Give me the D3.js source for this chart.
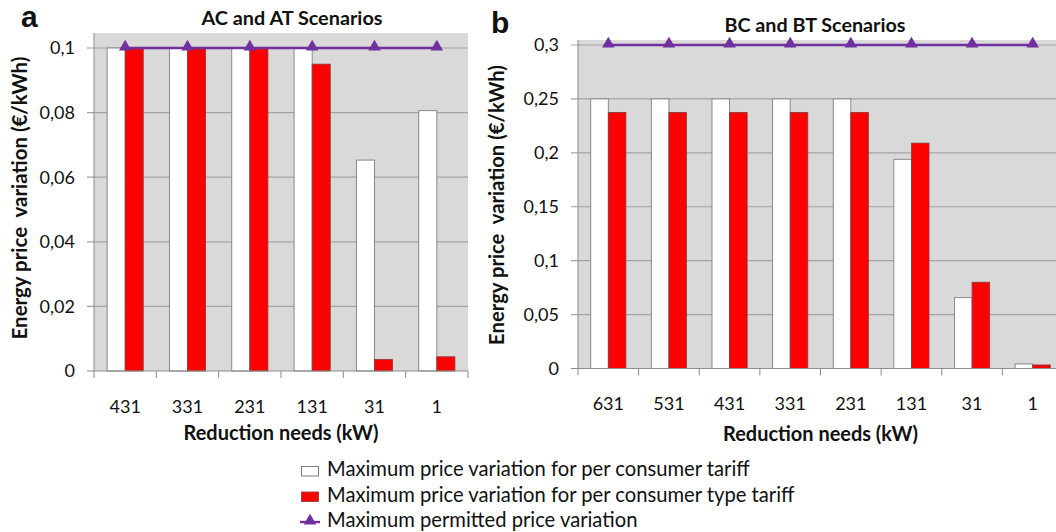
<!DOCTYPE html>
<html><head><meta charset="utf-8">
<script src="https://cdn.jsdelivr.net/npm/d3@7"></script>
<style>
html,body{margin:0;padding:0;background:#fff;}
svg{display:block;}
text{font-family:Lato,"Open Sans",sans-serif;fill:#111;}
</style></head>
<body>
<svg id="c" width="1056" height="532"></svg>
<script>
// ---- data ----
const catsA = ["431","331","231","131","31","1"];
const perConsumerA = [0.1,0.1,0.1,0.1,0.0653,0.0806];
const perTypeA     = [0.1,0.1,0.1,0.095,0.0036,0.0044];
const permittedA   = [0.1,0.1,0.1,0.1,0.1,0.1];
const yTicksA = [0,0.02,0.04,0.06,0.08,0.1];

const catsB = ["631","531","431","331","231","131","31","1"];
const perConsumerB = [0.25,0.25,0.25,0.25,0.25,0.194,0.0657,0.0042];
const perTypeB     = [0.2375,0.2375,0.2375,0.2375,0.2375,0.209,0.080,0.0033];
const permittedB   = [0.3,0.3,0.3,0.3,0.3,0.3,0.3,0.3];
const yTicksB = [0,0.05,0.1,0.15,0.2,0.25,0.3];

const legendLabels = [
  "Maximum price variation for per consumer tariff",
  "Maximum price variation for per consumer type tariff",
  "Maximum permitted price variation"
];

const svg = d3.select("#c");
const fmt = v => String(v).replace(".", ",");

function fitText(sel, target){
  const node = sel.node();
  const fs = parseFloat(sel.attr("font-size"));
  const w = node.getComputedTextLength();
  if (w > 0) sel.attr("font-size", (fs*target/w).toFixed(2));
  return sel;
}

function panel(o){
  const g = svg.append("g");
  const x = d3.scaleBand().domain(o.cats).range([o.left,o.right]);
  const y = d3.scaleLinear().domain([0,o.max]).range([o.y0,o.yMax]);
  const bw = x.bandwidth()*0.29;
  const cx = c => x(c)+x.bandwidth()/2;

  g.append("rect").attr("x",o.left).attr("y",o.top)
    .attr("width",o.right-o.left).attr("height",o.y0-o.top).attr("fill","#d9d9d9");
  // gridlines + ticks
  g.selectAll(".gl").data(o.ticks.filter(t=>t>0)).join("line")
    .attr("x1",o.left-7).attr("x2",o.right)
    .attr("y1",d=>y(d)).attr("y2",d=>y(d))
    .attr("stroke","#a3a3a3").attr("stroke-width",1.2);
  g.selectAll(".yl").data(o.ticks).join("text")
    .attr("x",o.left-19).attr("y",d=>y(d)).attr("dy","0.36em")
    .attr("text-anchor","end").attr("font-size",18).text(fmt);
  // y axis line
  g.append("line").attr("x1",o.left).attr("x2",o.left).attr("y1",o.top).attr("y2",o.y0)
    .attr("stroke","#8c8c8c").attr("stroke-width",1);
  // bars
  g.selectAll(".bw").data(o.cats).join("rect")
    .attr("x",c=>cx(c)-bw).attr("width",bw)
    .attr("y",(c,i)=>y(o.s1[i])).attr("height",(c,i)=>o.y0-y(o.s1[i]))
    .attr("fill","#ffffff").attr("stroke","#7f7f7f").attr("stroke-width",0.9);
  g.selectAll(".br").data(o.cats).join("rect")
    .attr("x",c=>cx(c)).attr("width",bw)
    .attr("y",(c,i)=>y(o.s2[i])).attr("height",(c,i)=>o.y0-y(o.s2[i]))
    .attr("fill","#ff0000").attr("stroke","#8a3a3a").attr("stroke-width",0.8);
  // x axis
  g.append("line").attr("x1",o.left-7).attr("x2",o.right).attr("y1",o.y0).attr("y2",o.y0)
    .attr("stroke","#8c8c8c").attr("stroke-width",1.2);
  const bounds = o.cats.map(c=>x(c)).concat([o.right]);
  g.selectAll(".xt").data(bounds).join("line")
    .attr("x1",d=>d).attr("x2",d=>d).attr("y1",o.y0).attr("y2",o.y0+7)
    .attr("stroke","#8c8c8c").attr("stroke-width",1);
  g.selectAll(".xl").data(o.cats).join("text")
    .attr("x",cx).attr("y",o.xLabY).attr("dy","0.36em")
    .attr("text-anchor","middle").attr("font-size",18).text(c=>c);
  // permitted line
  const line = d3.line().x((d,i)=>cx(o.cats[i])).y(d=>y(d));
  g.append("path").datum(o.s3).attr("d",line).attr("fill","none")
    .attr("stroke","#7030a0").attr("stroke-width",2.4);
  const tri = d3.symbol().type(d3.symbolTriangle).size(68);
  g.selectAll(".tri").data(o.s3).join("path")
    .attr("d",tri).attr("transform",(d,i)=>`translate(${cx(o.cats[i])},${y(d)-1})`)
    .attr("fill","#7030a0");
  // titles
  fitText(g.append("text").attr("x",o.titleX).attr("y",o.titleY).attr("text-anchor","middle")
    .attr("font-weight","bold").attr("font-size",17).text(o.title), 181);
  fitText(g.append("text").attr("x",(o.left+o.right)/2).attr("y",o.xTitleY).attr("text-anchor","middle")
    .attr("font-weight","bold").attr("font-size",18).text("Reduction needs (kW)"), 195);
  fitText(g.append("text").attr("transform",`translate(${o.yTitleX},${o.yTitleY}) rotate(-90)`)
    .attr("text-anchor","middle").attr("dy","0.36em").style("white-space","pre")
    .attr("font-weight","bold").attr("font-size",18).text("Energy price  variation (€/kWh)"), o.yTitleLen);
  g.append("text").attr("x",o.letterX).attr("y",o.letterY)
    .style("font-family","'Liberation Sans',Arial,sans-serif")
    .attr("font-weight","bold").attr("font-size",30).text(o.letter);
}

panel({cats:catsA,s1:perConsumerA,s2:perTypeA,s3:permittedA,ticks:yTicksA,max:0.1,
  left:94,right:468,top:33,y0:371,yMax:48,xLabY:407,
  title:"AC and AT Scenarios",titleX:292,titleY:25,xTitleY:440,
  yTitleX:20,yTitleY:198,yTitleLen:283,letter:"a",letterX:21,letterY:27});
panel({cats:catsB,s1:perConsumerB,s2:perTypeB,s3:permittedB,ticks:yTicksB,max:0.3,
  left:578,right:1063,top:40,y0:368.5,yMax:45,xLabY:404,
  title:"BC and BT Scenarios",titleX:815,titleY:32,xTitleY:441,
  yTitleX:497,yTitleY:205,yTitleLen:280,letter:"b",letterX:491,letterY:33});

// legend
const lg = svg.append("g");
const rowY = [476,501.5,527];
lg.append("rect").attr("x",301.5).attr("y",466.5).attr("width",17).attr("height",9.5)
  .attr("fill","#fff").attr("stroke","#7f7f7f").attr("stroke-width",1);
lg.append("rect").attr("x",301.5).attr("y",492).attr("width",17).attr("height",9.5)
  .attr("fill","#ff0000").attr("stroke","#8a3a3a").attr("stroke-width",0.8);
lg.append("line").attr("x1",300).attr("x2",320).attr("y1",522).attr("y2",522)
  .attr("stroke","#7030a0").attr("stroke-width",2.4);
lg.append("path").attr("d",d3.symbol().type(d3.symbolTriangle).size(68))
  .attr("transform","translate(310,521)").attr("fill","#7030a0");
const lt = lg.selectAll(".lt").data(legendLabels).join("text")
  .attr("x",327).attr("y",(d,i)=>rowY[i]).attr("font-size",18).text(d=>d);
const first = lt.filter((d,i)=>i===0);
fitText(first, 423);
lt.attr("font-size", first.attr("font-size"));
</script>
</body></html>
